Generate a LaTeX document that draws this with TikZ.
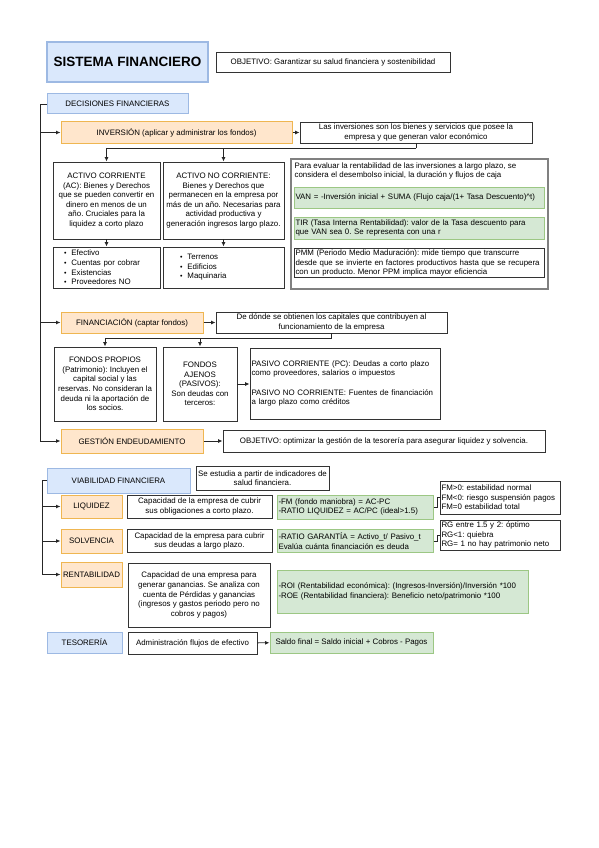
\documentclass[tikz,border=0pt]{standalone}
\usepackage{fontspec}
\setmainfont{Liberation Sans}
\usepackage{tikz}
\usetikzlibrary{arrows,arrows.meta,positioning}
\definecolor{blfill}{HTML}{DAE8FC}
\definecolor{blline}{HTML}{9DB9E3}
\definecolor{orfill}{HTML}{FFE6CC}
\definecolor{orline}{HTML}{EFB651}
\definecolor{grfill}{HTML}{D5E8D4}
\definecolor{grline}{HTML}{9CC784}
\newcommand{\bul}{{\fontsize{7}{7}\selectfont\textbullet}\hspace{5pt}}
\frenchspacing

\begin{document}
\begin{tikzpicture}[x=1pt,y=-1pt,>={Latex[length=4.5pt,width=4pt]},
    every node/.style={inner sep=1pt,font=\fontsize{7.9}{9.6}\selectfont},
    sz/.style 2 args={minimum width=#1pt,minimum height=#2pt},
    blbox/.style={draw=blline,fill=blfill,line width=1pt},
    orbox/.style={draw=orline,fill=orfill,line width=1pt},
    grbox/.style={draw=grline,fill=grfill,line width=1pt,align=left},
    wbox/.style={draw=black!80,fill=white,line width=0.9pt,align=center},
    lft/.style={align=left,text width=#1pt,inner xsep=1.5pt},
    conn/.style={draw=black!85,line width=0.9pt}]
  \useasboundingbox (0,0) rectangle (599,848);

  \node[blbox,sz={161}{40},line width=1.3pt,font=\fontsize{13.5}{16}\selectfont\bfseries] (title) at (127.5,62) {SISTEMA FINANCIERO};
  \node[wbox,sz={234}{20}] (obj) at (333,62) {OBJETIVO: Garantizar su salud financiera y sostenibilidad};

  \node[blbox,sz={141}{20}] (dec) at (117.5,104) {DECISIONES FINANCIERAS};
  \node[orbox,sz={231}{21}] (inv) at (176.5,132.5) {INVERSIÓN (aplicar y administrar los fondos)};
  \node[wbox,sz={232}{21}] (invdef) at (416,132.5) {Las inversiones son los bienes y servicios que posee la\\empresa y que generan valor económico};
  \node[wbox,sz={107}{77}] (ac) at (106.5,200.5) {ACTIVO CORRIENTE\\(AC): Bienes y Derechos\\que se pueden convertir en\\dinero en menos de un\\año. Cruciales para la\\liquidez a corto plazo};
  \node[wbox,sz={121}{77}] (anc) at (223.5,200.5) {ACTIVO NO CORRIENTE:\\Bienes y Derechos que\\permanecen en la empresa por\\más de un año. Necesarias para\\actividad productiva y\\generación ingresos largo plazo.};
  \node[wbox,sz={107}{41},align=left,text width=85pt] (acl) at (106.5,267.5) {\bul Efectivo\\\bul Cuentas por cobrar\\\bul Existencias\\\bul Proveedores NO};
  \node[wbox,sz={121}{41},align=left,text width=87pt] (ancl) at (223.5,267.5) {\bul Terrenos\\\bul Edificios\\\bul Maquinaria};

  \node[draw=black!50,fill=white,line width=1.2pt,sz={257}{130}] (eval) at (419.5,224) {};
  \node[anchor=north west,align=left] (evaltxt) at ([shift={(3,3)}]eval.north west) {Para evaluar la rentabilidad de las inversiones a largo plazo, se\\considera el desembolso inicial, la duración y flujos de caja};
  \node[grbox,sz={250}{21},lft=247] (van) at (419,197.5) {VAN = -Inversión inicial + SUMA (Flujo caja/(1+ Tasa Descuento)\textasciicircum t)};
  \node[grbox,sz={250}{22},lft=247] (tir) at (419,228) {TIR (Tasa Interna Rentabilidad): valor de la Tasa descuento para\\que VAN sea 0. Se representa con una r};
  \node[wbox,sz={250}{29},lft=247] (pmm) at (419,263) {PMM (Periodo Medio Maduración): mide tiempo que transcurre\\desde que se invierte en factores productivos hasta que se recupera\\con un producto. Menor PPM implica mayor eficiencia};

  \node[orbox,sz={142}{21}] (fin) at (132,322.5) {FINANCIACIÓN (captar fondos)};
  \node[wbox,sz={231}{21}] (findef) at (331.5,322.5) {De dónde se obtienen los capitales que contribuyen al\\funcionamiento de la empresa};
  \node[wbox,sz={102}{74}] (fp) at (105,384) {FONDOS PROPIOS\\(Patrimonio): Incluyen el\\capital social y las\\reservas. No consideran la\\deuda ni la aportación de\\los socios.};
  \node[wbox,sz={74}{74}] (fa) at (200,384) {FONDOS\\AJENOS\\(PASIVOS):\\Son deudas con\\terceros:};
  \node[wbox,sz={190}{71},lft=187] (pas) at (345,383.5) {PASIVO CORRIENTE (PC): Deudas a corto plazo\\como proveedores, salarios o impuestos\\[10pt]PASIVO NO CORRIENTE: Fuentes de financiación\\a largo plazo como créditos};

  \node[orbox,sz={142}{24}] (ges) at (132,441) {GESTIÓN ENDEUDAMIENTO};
  \node[wbox,sz={322}{22}] (gesobj) at (384,441) {OBJETIVO: optimizar la gestión de la tesorería para asegurar liquidez y solvencia.};

  \node[blbox,sz={143}{25}] (via) at (118.5,480.5) {VIABILIDAD FINANCIERA};
  \node[wbox,sz={133}{24}] (viadef) at (262.5,478) {Se estudia a partir de indicadores de\\salud financiera.};
  \node[orbox,sz={61}{23}] (liq) at (91.5,506.5) {LIQUIDEZ};
  \node[wbox,sz={145}{23}] (liqdef) at (199.5,506.5) {Capacidad de la empresa de cubrir\\sus obligaciones a corto plazo.};
  \node[grbox,sz={156}{24},lft=153] (liqf) at (355,507) {-FM (fondo maniobra) = AC-PC\\-RATIO LIQUIDEZ = AC/PC (ideal>1.5)};
  \node[wbox,sz={120}{33},lft=117] (fm) at (500,497.5) {FM>0: estabilidad normal\\FM<0: riesgo suspensión pagos\\FM=0 estabilidad total};
  \node[orbox,sz={61}{24}] (sol) at (91.5,541) {SOLVENCIA};
  \node[wbox,sz={145}{23}] (soldef) at (199.5,541) {Capacidad de la empresa para cubrir\\sus deudas a largo plazo.};
  \node[grbox,sz={156}{23},lft=153] (solf) at (355,541) {-RATIO GARANTÍA = Activo\_t/ Pasivo\_t\\Evalúa cuánta financiación es deuda};
  \node[wbox,sz={120}{30},lft=117] (rg) at (500,535) {RG entre 1.5 y 2: óptimo\\RG<1: quiebra\\RG= 1 no hay patrimonio neto};
  \node[orbox,sz={61}{25},inner xsep=0pt] (ren) at (91.5,574.5) {RENTABILIDAD};
  \node[wbox,sz={142}{64}] (rendef) at (199,595) {Capacidad de una empresa para\\generar ganancias. Se analiza con\\cuenta de Pérdidas y ganancias\\(ingresos y gastos periodo pero no\\cobros y pagos)};
  \node[grbox,sz={251}{43},lft=248] (renf) at (402.5,591.5) {-ROI (Rentabilidad económica): (Ingresos-Inversión)/Inversión *100\\-ROE (Rentabilidad financiera): Beneficio neto/patrimonio *100};

  \node[blbox,sz={75}{21}] (tes) at (84.5,642.5) {TESORERÍA};
  \node[wbox,sz={129}{22}] (tesdef) at (192.5,643) {Administración flujos de efectivo};
  \node[grbox,sz={163}{21}] (tesf) at (351.5,642.5) {Saldo final = Saldo inicial + Cobros - Pagos};

  \coordinate (sp1) at (40,104);
  \draw[conn,->] (dec.west) -- (sp1) |- (ges.west);
  \draw[conn,->] (sp1 |- inv.west) -- (inv.west);
  \draw[conn,->] (sp1 |- fin.west) -- (fin.west);
  \draw[conn,->] (inv) -- (invdef);
  \coordinate (k1) at (416,148);
  \draw[conn] (invdef.south) -- (k1);
  \draw[conn,->] (k1) -| (ac.north);
  \draw[conn,->] (k1) -| (anc.north);
  \draw[conn,->] (ac) -- (acl);
  \draw[conn,->] (anc) -- (ancl);
  \draw[conn,->] (fin) -- (findef);
  \coordinate (k2) at (331.5,338);
  \draw[conn] (findef.south) -- (k2);
  \draw[conn,->] (k2) -| (fp.north);
  \draw[conn,->] (k2) -| (fa.north);
  \draw[conn,->] (fa.east) -- (fa.east -| pas.west);
  \draw[conn,->] (ges) -- (gesobj);
  \coordinate (sp2) at (42,480.5);
  \draw[conn,->] (via.west) -- (sp2) |- (ren.west);
  \draw[conn,->] (sp2 |- liq.west) -- (liq.west);
  \draw[conn,->] (sp2 |- sol.west) -- (sol.west);
  \draw[conn] (liqf.east) -- ++(3.5,0) |- (fm.west);
  \draw[conn] (solf.east) -- ++(3.5,0) |- (rg.west);
  \draw[conn,->] (tesdef) -- (tesf);
\end{tikzpicture}
\end{document}
